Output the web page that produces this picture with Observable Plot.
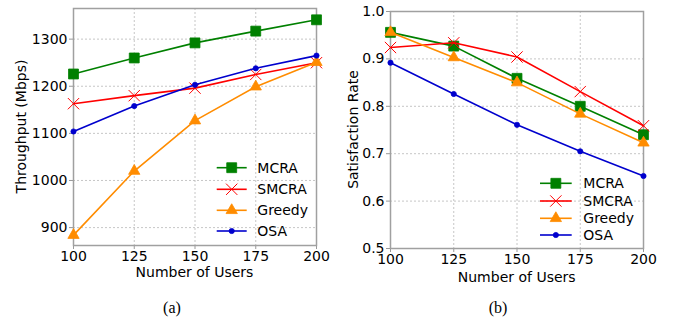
<!DOCTYPE html>
<html><head><meta charset="utf-8">
<script src="https://cdn.jsdelivr.net/npm/d3@7"></script>
<script src="https://cdn.jsdelivr.net/npm/@observablehq/plot@0.6"></script>
<style>
body{margin:0;background:#fff;}
#wrap{position:relative;width:681px;height:329px;overflow:hidden;font-family:"DejaVu Sans",sans-serif;background:#fff;}
.panel{position:absolute;top:0;}
.cap{position:absolute;font-family:"Liberation Serif",serif;font-size:16px;transform:translate(-50%,-50%);color:#000;}
#overlay{position:absolute;left:0;top:0;pointer-events:none;}
</style></head><body><div id="wrap"></div>
<script>
// ---- data ----
const users = [100, 125, 150, 175, 200];
const seriesNames = ["MCRA", "SMCRA", "Greedy", "OSA"];
const throughputMCRA   = [1226, 1260, 1292, 1317, 1341];
const throughputSMCRA  = [1163, 1180, 1196, 1225, 1250];
const throughputGreedy = [884, 1020, 1127, 1199, 1251];
const throughputOSA    = [1104, 1158, 1203, 1238, 1265];
const satMCRA   = [0.956, 0.927, 0.859, 0.800, 0.740];
const satSMCRA  = [0.924, 0.934, 0.904, 0.831, 0.759];
const satGreedy = [0.956, 0.903, 0.850, 0.784, 0.723];
const satOSA    = [0.892, 0.826, 0.761, 0.705, 0.653];
const userTicks = [100, 125, 150, 175, 200];
const throughputTicks = [900, 1000, 1100, 1200, 1300];
const satTicks = [0.5, 0.6, 0.7, 0.8, 0.9, 1.0];
const satTickLabels = ["0.5", "0.6", "0.7", "0.8", "0.9", "1.0"];

// ---- styles ----
const style = {
  MCRA:   {color: "#008000", symbol: "square",   r: 5.6},
  SMCRA:  {color: "#ff0000", symbol: "times",    r: 5.2},
  Greedy: {color: "#ff8c00", symbol: "triangle", r: 4.2},
  OSA:    {color: "#0000cd", symbol: "circle",   r: 2.6}
};

function rows(values) {
  const out = [];
  seriesNames.forEach((s, i) => values[i].forEach((v, j) => out.push({series: s, users: users[j], value: v})));
  return out;
}

function panel(cfg) {
  const data = rows(cfg.values);
  const marks = [
    Plot.gridX(userTicks, {stroke: "#b8b8b8", strokeOpacity: 1, strokeDasharray: "2,2", strokeWidth: 0.8}),
    Plot.gridY(cfg.yTicks, {stroke: "#b8b8b8", strokeOpacity: 1, strokeDasharray: "2,2", strokeWidth: 0.8}),
    Plot.axisX(userTicks, {tickSize: 4, tickPadding: 2, stroke: "#999", fill: "#000", fontSize: 14, label: null}),
    Plot.axisY(cfg.yTicks, {tickSize: 4, tickPadding: 2, stroke: "#999", fill: "#000", fontSize: 14, label: null, tickFormat: cfg.tickFormat}),
    Plot.frame({stroke: "#a0a0a0", strokeWidth: 1.5})
  ];
  for (const s of seriesNames) {
    const st = style[s];
    const d = data.filter(r => r.series === s);
    marks.push(Plot.line(d, {x: "users", y: "value", stroke: st.color, strokeWidth: 1.6}));
    if (st.symbol === "times") {
      marks.push(Plot.dot(d, {x: "users", y: "value", symbol: "times", r: st.r, stroke: st.color, strokeWidth: 1, fill: "none"}));
    } else {
      marks.push(Plot.dot(d, {x: "users", y: "value", symbol: st.symbol, r: st.r, fill: st.color, stroke: st.color, strokeWidth: 0.8}));
    }
  }
  return Plot.plot({
    width: cfg.width, height: 290,
    marginLeft: cfg.ml, marginRight: cfg.mr, marginTop: cfg.mt, marginBottom: cfg.mb,
    style: {fontFamily: "DejaVu Sans", fontSize: "14px", background: "transparent", overflow: "visible"},
    x: {domain: [100, 200], axis: null},
    y: {domain: cfg.yDomain, axis: null},
    marks
  });
}

const wrap = document.getElementById("wrap");

const p1 = panel({
  width: 340, ml: 73, mr: 24, mt: 8, mb: 45,
  values: [throughputMCRA, throughputSMCRA, throughputGreedy, throughputOSA],
  yDomain: [862, 1365], yTicks: throughputTicks, tickFormat: d => String(d)
});
p1.classList.add("panel"); p1.style.left = "0px";
wrap.appendChild(p1);

const p2 = panel({
  width: 341, ml: 50, mr: 38, mt: 11, mb: 42,
  values: [satMCRA, satSMCRA, satGreedy, satOSA],
  yDomain: [0.5, 1.0], yTicks: satTicks, tickFormat: (d, i) => satTickLabels[i]
});
p2.classList.add("panel"); p2.style.left = "340px";
wrap.appendChild(p2);

// ---- overlay: axis titles & legends ----
const ov = d3.select(wrap).append("svg").attr("id", "overlay").attr("width", 681).attr("height", 329);
function title(t, x, y, rot) {
  ov.append("text").attr("transform", `translate(${x},${y}) rotate(${rot})`)
    .attr("text-anchor", "middle").attr("dy", "0.36em")
    .attr("font-family", "DejaVu Sans").attr("font-size", 14).attr("fill", "#000").text(t);
}
title("Number of Users", 194.5, 272, 0);
title("Throughput (Mbps)", 21, 126.5, -90);
title("Number of Users", 516.7, 276.5, 0);
title("Satisfaction Rate", 353, 129.5, -90);

function legend(rowsY, x0, x1, tx) {
  seriesNames.forEach((s, i) => {
    const st = style[s];
    const g = ov.append("g");
    const y = rowsY[i];
    g.append("line").attr("x1", x0).attr("x2", x1).attr("y1", y).attr("y2", y).attr("stroke", st.color).attr("stroke-width", 1.6);
    const sym = {square: d3.symbolSquare, times: d3.symbolTimes, triangle: d3.symbolTriangle, circle: d3.symbolCircle}[st.symbol];
    const path = g.append("path").attr("d", d3.symbol(sym, Math.PI * st.r * st.r)()).attr("transform", `translate(${(x0 + x1) / 2},${y})`);
    if (st.symbol === "times") path.attr("fill", "none").attr("stroke", st.color).attr("stroke-width", 1);
    else path.attr("fill", st.color).attr("stroke", st.color).attr("stroke-width", 0.8);
    g.append("text").attr("x", tx).attr("y", y).attr("dy", "0.36em").attr("font-family", "DejaVu Sans").attr("font-size", 14).attr("fill", "#000").text(s);
  });
}
legend([167.7, 189.3, 210.3, 231], 216.7, 246.7, 257.3);
legend([183.3, 201, 218.3, 235], 540, 571.7, 583.3);

// ---- captions ----
[["(a)", 172, 308], ["(b)", 498, 308]].forEach(([t, x, y]) => {
  const d = document.createElement("div");
  d.className = "cap"; d.textContent = t; d.style.left = x + "px"; d.style.top = y + "px";
  wrap.appendChild(d);
});
</script>
</body></html>
